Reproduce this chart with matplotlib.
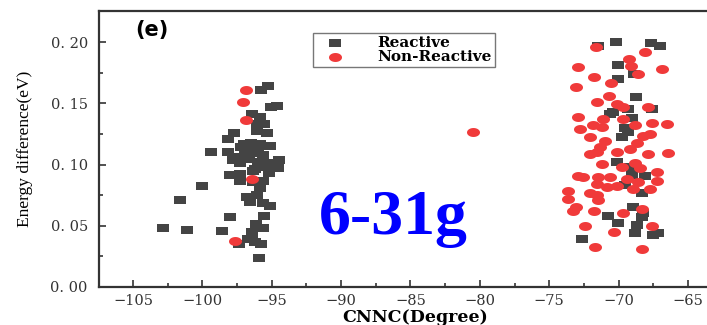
#!/usr/bin/env python
import numpy as np
import matplotlib
matplotlib.use("Agg")
import matplotlib.pyplot as plt
from matplotlib.ticker import MultipleLocator, FuncFormatter

# Reactive points (CNNC angle in degrees, energy difference in eV)
reactive_x = [
    -95.25, -95.78, -94.64, -95.08, -96.45, -95.85, -96.08, -95.54, -96.08, -95.36,
    -97.72, -98.17, -96.52, -95.85, -95.10, -97.24, -96.81, -99.40, -98.17, -96.33,
    -95.61, -97.29, -96.62, -97.77, -94.46, -95.97, -97.29, -95.13, -94.53, -95.61,
    -96.33, -95.18, -98.01, -97.29, -97.29, -95.61, -96.33, -100.05, -95.85, -96.81,
    -96.08, -96.57, -101.61, -95.61, -95.13, -95.54, -98.01, -96.14, -95.61, -102.82,
    -101.13, -98.61, -96.45, -96.69, -96.21, -97.34, -95.78, -95.90, -96.45, -96.90,
    -96.00, -95.40, -96.20, -97.00,
    -71.46, -70.21, -67.67, -67.02, -70.07, -68.91, -70.02, -68.77, -67.62, -69.30,
    -70.38, -70.62, -69.06, -69.54, -69.30, -69.78, -70.14, -69.18, -69.06, -68.10,
    -69.54, -68.34, -68.94, -68.22, -70.74, -68.34, -70.02, -68.70, -68.82, -67.14,
    -67.50, -72.66,
]
reactive_y = [
    0.164, 0.161, 0.148, 0.147, 0.1415, 0.139, 0.133, 0.133, 0.127, 0.126,
    0.1255, 0.1206, 0.1178, 0.1167, 0.1153, 0.1145, 0.1118, 0.110, 0.1104, 0.1091,
    0.1078, 0.1064, 0.1042, 0.1037, 0.1037, 0.1023, 0.101, 0.101, 0.0974, 0.0982,
    0.0949, 0.0933, 0.0914, 0.0922, 0.0868, 0.0865, 0.086, 0.0827, 0.0811, 0.0737,
    0.0751, 0.0696, 0.0708, 0.0683, 0.0661, 0.058, 0.0569, 0.0514, 0.0479, 0.0479,
    0.0468, 0.046, 0.0424, 0.0389, 0.037, 0.0353, 0.0353, 0.0237, 0.0451, 0.108,
    0.112, 0.099, 0.096, 0.117,
    0.197, 0.2002, 0.1989, 0.197, 0.1812, 0.1739, 0.1696, 0.1549, 0.1451, 0.1451,
    0.1431, 0.1412, 0.1377, 0.1296, 0.1268, 0.1227, 0.1018, 0.0982, 0.0914, 0.0906,
    0.0833, 0.077, 0.0656, 0.0601, 0.0582, 0.0569, 0.052, 0.0506, 0.0438, 0.0443,
    0.0422, 0.0392,
]

# Non-reactive points
nonreactive_x = [
    -96.88, -97.09, -96.88, -96.45, -97.65, -80.52,
    -71.65, -68.10, -69.23, -72.91, -69.11, -66.90, -68.58, -71.75, -70.55, -73.09,
    -70.67, -71.58, -70.14, -69.66, -67.86, -72.95, -71.10, -69.66, -71.82, -71.22,
    -68.82, -67.62, -66.54, -72.78, -68.22, -67.74, -72.06, -70.98, -68.70, -71.34,
    -71.58, -70.14, -69.18, -72.06, -67.86, -66.42, -71.22, -68.82, -69.78, -68.46,
    -72.91, -72.55, -71.46, -70.62, -69.42, -68.58, -67.26, -67.26, -71.58, -70.86,
    -70.14, -68.94, -67.74, -73.63, -72.06, -71.58, -73.63, -71.46, -73.07, -68.34,
    -73.27, -71.75, -69.71, -72.42, -67.62, -70.31, -71.70, -68.29,
]
nonreactive_y = [
    0.1606, 0.1513, 0.1363, 0.0879, 0.0376, 0.1268,
    0.1962, 0.1921, 0.1859, 0.1793, 0.1804, 0.178, 0.1739, 0.1717, 0.1663, 0.1635,
    0.1559, 0.1508, 0.1491, 0.1467, 0.1472, 0.1385, 0.1371, 0.1371, 0.1322, 0.1309,
    0.1322, 0.1341, 0.1331, 0.1287, 0.1235, 0.1249, 0.1222, 0.1194, 0.1178, 0.1145,
    0.1104, 0.1104, 0.1124, 0.1086, 0.1083, 0.1096, 0.1004, 0.1015, 0.0982, 0.0969,
    0.0909, 0.090, 0.0896, 0.090, 0.0882, 0.086, 0.0941, 0.0865, 0.0841, 0.0819,
    0.0824, 0.0798, 0.0802, 0.0786, 0.0765, 0.0751, 0.0716, 0.071, 0.0656, 0.0637,
    0.0623, 0.0623, 0.0607, 0.0498, 0.0498, 0.0451, 0.0324, 0.0308,
]

x_ticks = [-105, -100, -95, -90, -85, -80, -75, -70, -65]
y_ticks = [0.00, 0.05, 0.10, 0.15, 0.20]

plt.rcParams['font.family'] = ['Liberation Serif', 'DejaVu Serif']
# the source picture is stretched sideways, so the wider DejaVu Serif
# matches most of its small texts better than Times-like faces
wide = ['DejaVu Serif']

# markers are wide for the same reason
rect = [(-1.5, -1), (1.5, -1), (1.5, 1), (-1.5, 1), (-1.5, -1)]
t = np.linspace(0, 2 * np.pi, 40)
ellipse = list(zip(1.45 * np.cos(t), np.sin(t)))

fig = plt.figure(figsize=(7.07, 3.25), dpi=100)
ax = fig.add_axes([0.140, 0.117, 0.860, 0.849])

ax.scatter(reactive_x, reactive_y, marker=rect, s=78, color='#444444',
           linewidths=0, label='Reactive', zorder=2)
ax.scatter(nonreactive_x, nonreactive_y, marker=ellipse, s=88, color='#f03a3a',
           linewidths=0, label='Non-Reactive', zorder=3)

ax.set_xlim(-107.45, -63.63)
ax.set_ylim(0, 0.2253)
ax.set_xticks(x_ticks)
ax.set_yticks(y_ticks)
ax.xaxis.set_minor_locator(MultipleLocator(2.5))
ax.yaxis.set_minor_locator(MultipleLocator(0.025))
ax.yaxis.set_major_formatter(FuncFormatter(lambda v, p: '{:.2f}'.format(v).replace('.', '. ')))
ax.xaxis.set_major_formatter(FuncFormatter(lambda v, p: '\u2212{:d}'.format(int(round(-v)))))
ax.tick_params(which='both', direction='in', width=1.2, colors='#333333',
               labelsize=10.5, labelcolor='#333333')
ax.tick_params(which='major', length=5)
ax.tick_params(which='minor', length=3)
ax.tick_params(axis='x', pad=5)
ax.tick_params(axis='y', pad=8)
for lab in ax.get_xticklabels() + ax.get_yticklabels():
    lab.set_family(wide)
    lab.set_fontweight('light')

for side in ['left', 'top', 'bottom']:
    ax.spines[side].set_linewidth(1.6)
    ax.spines[side].set_color('#333333')
ax.spines['right'].set_visible(False)

ax.set_ylabel('Energy difference(eV)', fontsize=12.5)
ax.yaxis.set_label_coords(-0.108, 0.5)
ax.set_xlabel('CNNC(Degree)', fontsize=12.5, fontweight='bold', family=wide)
ax.xaxis.set_label_coords(0.52, -0.079)

ax.text(0.059, 0.931, '(e)', transform=ax.transAxes, fontsize=15,
        fontweight='bold', family=['DejaVu Sans'], ha='left', va='center')
ax.text(0.4836, 0.192, '6-31g', transform=ax.transAxes, fontsize=46,
        fontweight='bold', color='#0000ff', ha='center', va='baseline')

leg = ax.legend(loc='upper left', bbox_to_anchor=(0.352, 0.922), fancybox=False,
                frameon=True, edgecolor='#555555', borderpad=0.2,
                labelspacing=0.05, handletextpad=1.5, handlelength=2.5,
                borderaxespad=0,
                prop={'weight': 'bold', 'size': 11, 'family': wide})
leg.get_frame().set_linewidth(1.0)

fig.savefig('out.png', dpi=100)
